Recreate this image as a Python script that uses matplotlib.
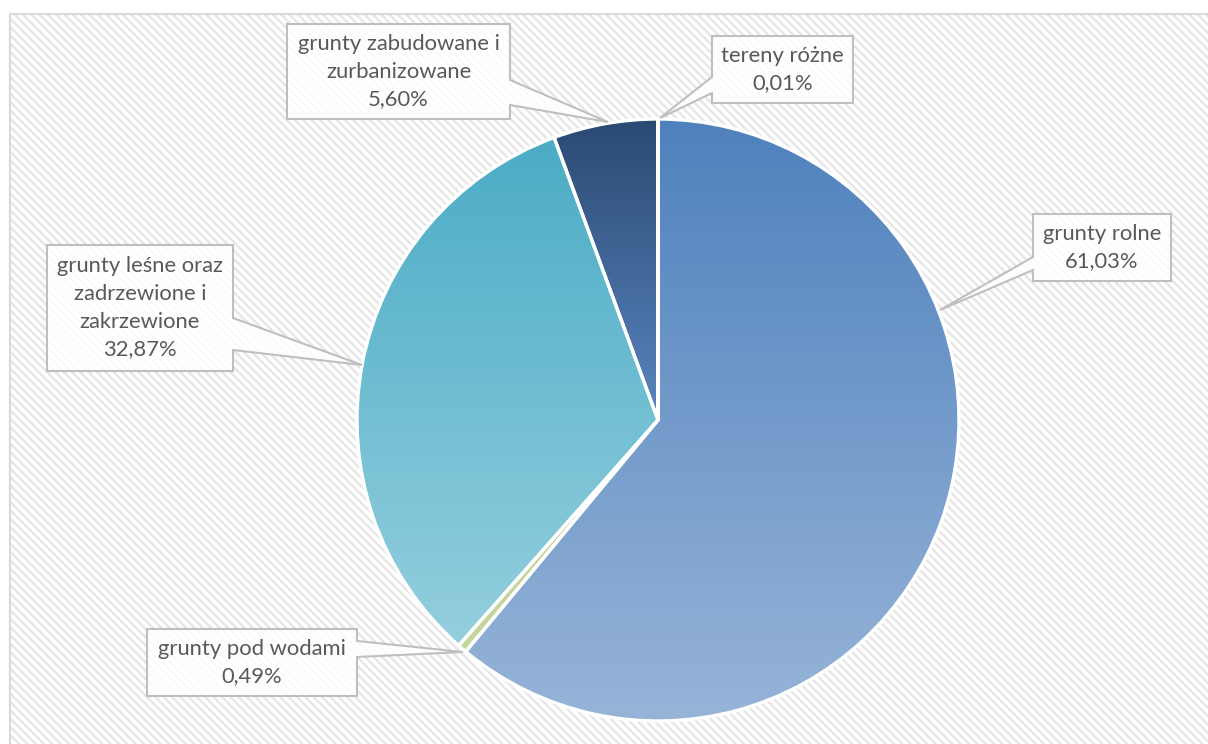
import numpy as np
import matplotlib
matplotlib.use('Agg')
import matplotlib.pyplot as plt
from matplotlib.patches import Rectangle, Polygon
from matplotlib.colors import to_rgb

plt.rcParams['font.family'] = ['Lato', 'DejaVu Sans']
plt.rcParams['hatch.linewidth'] = 1.7

labels = ['grunty rolne', 'grunty pod wodami',
          'grunty leśne oraz\nzadrzewione i\nzakrzewione',
          'grunty zabudowane i\nzurbanizowane', 'tereny różne']
values = [61.03, 0.49, 32.87, 5.60, 0.01]
top_colors = ['#4f81bd', '#c3d69b', '#4bacc6', '#2a4a73', '#4f81bd']
bottom_colors = ['#97b4d8', '#c3d69b', '#94cfde', '#5a85bf', '#4f81bd']

W, H = 1208, 744
cx, cy, R = 658, 420, 301

# callout boxes in pixel coords (x0, y0, x1, y1), tail side, tail base, tip
boxes = [(1033, 214, 1171, 281), (147, 629, 357, 696), (47, 245, 233, 371),
         (287, 24, 510, 119), (712, 36, 853, 103)]
tails = [('left', 257, 270, (940, 310)), ('right', 641, 657, (463, 652)),
         ('right', 318, 350, (362, 365)), ('right', 80, 105, (608, 122)),
         ('left', 77, 93, (660, 118))]

fig = plt.figure(figsize=(W / 100, H / 100), dpi=100)
ax = fig.add_axes([0, 0, 1, 1])

def fy(y):
    return H - y

# hatched background
ax.add_patch(Rectangle((10, 0), W, fy(14), facecolor='white', edgecolor='#e6e6e6',
                       hatch='\\\\\\\\', linewidth=0, zorder=0))
ax.add_patch(Rectangle((10, -5), W, fy(14) + 5, facecolor='none', edgecolor='#d9d9d9',
                       linewidth=1.5, zorder=1))

wedges, _ = ax.pie(values, startangle=90, counterclock=False, center=(cx, fy(cy)), radius=R,
                   wedgeprops=dict(edgecolor='white', linewidth=2.4, facecolor='none'))

for w, c0, c1 in zip(wedges, top_colors, bottom_colors):
    w.set_zorder(3)
    ext = w.get_path().get_extents()
    t = np.linspace(0, 1, 256)[:, None]
    grad = (1 - t) * np.array(to_rgb(c0)) + t * np.array(to_rgb(c1))
    img = ax.imshow(grad[:, None, :].repeat(2, axis=1), extent=(ext.x0, ext.x1, ext.y0, ext.y1),
                    origin='upper', aspect='auto', zorder=2, interpolation='bilinear')
    img.set_clip_path(w)

for lab, v, (x0, y0, x1, y1), (side, t0, t1, tip) in zip(labels, values, boxes, tails):
    if side == 'right':
        pts = [(x0, y0), (x1, y0), (x1, t0), tip, (x1, t1), (x1, y1), (x0, y1)]
    else:
        pts = [(x0, y0), (x1, y0), (x1, y1), (x0, y1), (x0, t1), tip, (x0, t0)]
    pts = [(px, fy(py)) for px, py in pts]
    ax.add_patch(Polygon(pts, closed=True, facecolor='white', alpha=0.85, edgecolor='none', zorder=4))
    ax.add_patch(Polygon(pts, closed=True, facecolor='none', edgecolor='#bfbfbf', linewidth=1.5, zorder=5))
    txt = lab + '\n' + f'{v:.2f}'.replace('.', ',') + '%'
    ax.text((x0 + x1) / 2, fy((y0 + y1) / 2), txt, ha='center', va='center', fontsize=15.8,
            color='#595959', linespacing=1.48, zorder=6)

ax.set_xlim(0, W)
ax.set_ylim(0, H)
ax.set_aspect('auto')
ax.axis('off')

fig.savefig('out.png', dpi=100)
